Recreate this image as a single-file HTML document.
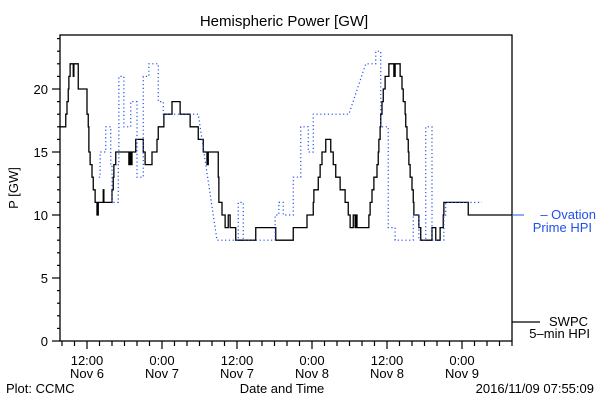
<!DOCTYPE html>
<html><head><meta charset="utf-8"><style>
body{margin:0;background:#fff}
svg{display:block;font-family:"Liberation Sans",sans-serif}
</style></head><body>
<svg id="chart" width="600" height="400" viewBox="0 0 600 400" xmlns="http://www.w3.org/2000/svg">
<rect x="0" y="0" width="600" height="400" fill="#fff"/>
<text x="284" y="26" font-size="15" text-anchor="middle">Hemispheric Power [GW]</text>
<text transform="translate(18,188) rotate(-90)" font-size="13" text-anchor="middle">P [GW]</text>
<text x="282" y="393" font-size="13" text-anchor="middle">Date and Time</text>
<text x="6" y="393" font-size="13">Plot: CCMC</text>
<text x="594" y="393" font-size="13" text-anchor="end">2016/11/09 07:55:09</text>
<g id="axes"></g>
<g id="series"></g>
<rect x="60" y="35" width="452" height="306" fill="none" stroke="#000" stroke-width="1.3"/>
<line x1="512" y1="215" x2="524" y2="215" stroke="#1f4fef" stroke-width="1"/>
<text x="596" y="219" font-size="13" fill="#1f4fef" text-anchor="end">– Ovation</text>
<text x="592" y="232" font-size="13" fill="#1f4fef" text-anchor="end">Prime HPI</text>
<line x1="512" y1="322" x2="540" y2="322" stroke="#000" stroke-width="1.3"/>
<text x="588" y="326" font-size="13" text-anchor="end">SWPC</text>
<text x="590" y="338" font-size="13" text-anchor="end">5–min HPI</text>
</svg>
<script>
// hours since Nov 6 00:00
const xTickHours = [12, 24, 36, 48, 60, 72];
const xTickTime = ["12:00", "0:00", "12:00", "0:00", "12:00", "0:00"];
const xTickDate = ["Nov 6", "Nov 7", "Nov 7", "Nov 8", "Nov 8", "Nov 9"];
const yTicks = [0, 5, 10, 15, 20];
const swpcT = [7.7,8.6,8.8,9.0,9.1,9.3,9.8,9.9,10.6,12.0,12.2,12.3,12.5,12.8,13.0,13.3,13.6,13.8,14.6,14.7,16.0,16.2,16.3,16.6,18.7,18.9,19.0,19.2,19.8,21.0,21.3,22.4,23.2,23.4,24.3,25.6,26.9,28.5,29.8,30.6,31.2,31.4,33.0,33.1,33.6,34.1,34.6,34.9,35.8,39.0,42.2,45.0,47.2,48.2,48.3,49.0,49.3,49.6,50.2,51.0,51.4,51.8,52.5,53.3,53.8,54.1,54.6,54.9,55.0,55.2,57.1,57.3,57.6,57.9,58.4,58.6,58.7,58.9,59.0,59.2,59.4,59.7,60.3,61.1,61.3,62.1,62.4,62.6,62.9,63.0,63.2,63.4,63.5,63.7,64.0,64.2,64.3,65.1,65.4,67.2,67.8,68.5,69.0,69.1,73.0,80.0];
const swpcV = [17,18,19,20,21,22,21,22,20,18,17,15,14,13,12,11,10,11,12,11,12,13,14,15,14,15,14,15,16,15,14,15,16,17,18,19,18,17,16,15,14,15,13,11,10,9,10,9,8,9,8,9,10,11,12,13,14,15,16,15,14,13,12,11,10,9,10,9,10,9,10,11,12,13,14,15,16,17,18,19,20,21,22,21,22,21,20,19,18,17,16,15,14,13,12,11,10,9,8,9,8,9,10,11,10,10];
const ovT = [13.9,14.1,15.0,15.8,16.0,17.0,17.1,17.9,19.0,20.0,21.0,21.9,23.4,24.2,29.8,32.8,36.2,37.0,42.1,42.7,43.4,45.0,46.2,47.4,48.2,53.9,56.6,58.2,59.0,60.2,61.3,64.2,65.1,66.2,67.2,69.1,69.4,75.2];
const ovV = [13,15,17,14,11,14,21,17,19,13,21,22,19,18,18,8,11,8,10,11,10,13,17,15,18,18,22,23,17,9,8,10,8,17,8,10,11,11];

const X0=60,X1=512,T0=7.68,T1=80,Y0=341,PPU=12.6;
const xs=t=>X0+(t-T0)*(X1-X0)/(T1-T0);
const ys=v=>Y0-v*PPU;
const NS="http://www.w3.org/2000/svg";
const axes=document.getElementById('axes'), ser=document.getElementById('series');
function mk(tag,attrs,parent){const e=document.createElementNS(NS,tag);for(const k in attrs)e.setAttribute(k,attrs[k]);parent.appendChild(e);return e;}

for(let v=0;v<=24;v++){
  const major=v%5===0;
  const l=mk('line',{x1:major?52:57,x2:60,y1:ys(v),y2:ys(v),stroke:'#000','stroke-width':1.2},axes);
  
  
}
yTicks.forEach(v=>{
  const t=mk('text',{x:48,y:ys(v)+5,'font-size':13,'text-anchor':'end'},axes);
  t.textContent=v;
  
  
});
for(let h=8;h<=80;h+=2){
  const major=xTickHours.includes(h);
  const l=mk('line',{x1:xs(h),x2:xs(h),y1:341,y2:major?349:346,stroke:'#000','stroke-width':1.2},axes);
  
  
}
xTickHours.forEach((h,i)=>{
  const a=mk('text',{x:xs(h),y:365,'font-size':13,'text-anchor':'middle'},axes);
  a.textContent=xTickTime[i];
  
  
  const b=mk('text',{x:xs(h),y:378,'font-size':13,'text-anchor':'middle'},axes);
  b.textContent=xTickDate[i];
  
  
});

function stepPath(T,V){
  let d='M'+xs(T[0])+','+ys(V[0]);
  for(let i=1;i<T.length;i++){
    if(V[i-1]===V[i-2]&&i>1){d+=' L'+xs(T[i])+','+ys(V[i]);}
    else{d+=' L'+xs(T[i])+','+ys(V[i-1])+' L'+xs(T[i])+','+ys(V[i]);}
  }
  return d;
}
// SWPC: pure steps
let d='M'+xs(swpcT[0])+','+ys(swpcV[0]);
for(let i=1;i<swpcT.length;i++){d+=' L'+xs(swpcT[i])+','+ys(swpcV[i-1])+' L'+xs(swpcT[i])+','+ys(swpcV[i]);}
const p1=mk('path',{d:d,fill:'none',stroke:'#000','stroke-width':1.3},ser);


const p2=mk('path',{d:stepPath(ovT,ovV),fill:'none',stroke:'#1f4fef','stroke-width':1.2,'stroke-dasharray':'1.2 2.6'},ser);


</script>
</body></html>
